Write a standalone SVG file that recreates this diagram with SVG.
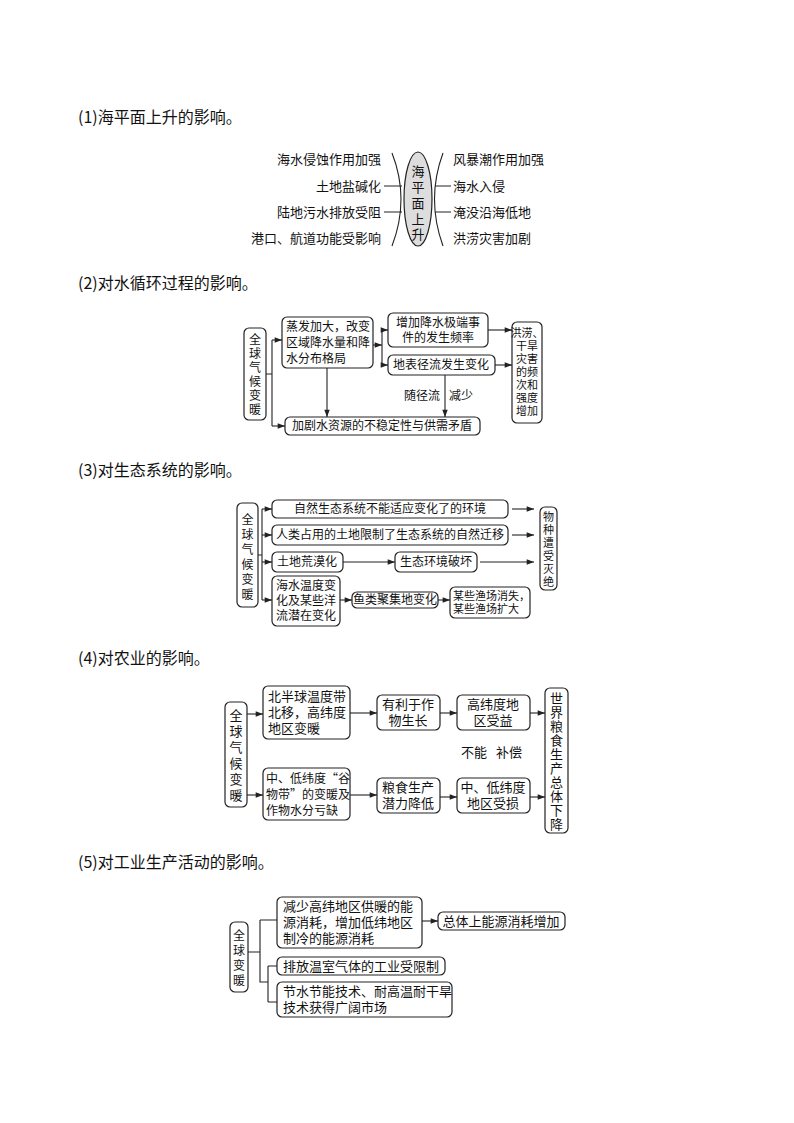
<svg xmlns="http://www.w3.org/2000/svg" width="794" height="1123" viewBox="0 0 794 1123">
<style>
text{font-family:"Noto Sans CJK SC","Liberation Sans",sans-serif;fill:#111;font-size:12px}
.t{font-size:16px}
.m{font-size:13px}
.s{font-size:11px}
.c{text-anchor:middle}
.r{text-anchor:end}
.b{fill:#fff;stroke:#222;stroke-width:1.2}
.l{fill:none;stroke:#222;stroke-width:1.1}
</style>
<defs><marker id="a" viewBox="0 0 8 6" refX="8" refY="3" markerWidth="7" markerHeight="5" orient="auto"><path d="M0,0L8,3L0,6z" fill="#222"/></marker></defs>
<rect width="794" height="1123" fill="#fff"/>
<text class="t" x="78" y="123">(1)海平面上升的影响。</text>
<text class="t" x="78" y="289">(2)对水循环过程的影响。</text>
<text class="t" x="78" y="476">(3)对生态系统的影响。</text>
<text class="t" x="78" y="664">(4)对农业的影响。</text>
<text class="t" x="78" y="868">(5)对工业生产活动的影响。</text>

<!-- Section 1 -->
<g id="s1-center"><ellipse cx="418" cy="199" rx="14" ry="47" fill="#ddd" stroke="#222" stroke-width="1.2"/>
<text class="c m" x="418" y="176">海</text><text class="c m" x="418" y="192">平</text><text class="c m" x="418" y="208">面</text><text class="c m" x="418" y="224">上</text><text class="c m" x="418" y="239">升</text></g>
<g id="s1-left"><text class="r m" x="381" y="164">海水侵蚀作用加强</text><text class="r m" x="381" y="191">土地盐碱化</text><text class="r m" x="381" y="217">陆地污水排放受阻</text><text class="r m" x="381" y="243">港口、航道功能受影响</text></g>
<g id="s1-right"><text class="m" x="453" y="164">风暴潮作用加强</text><text class="m" x="453" y="191">海水入侵</text><text class="m" x="453" y="217">淹没沿海低地</text><text class="m" x="453" y="243">洪涝灾害加剧</text></g>
<g id="s1-lines"><path class="l" d="M392,153Q410,199 392,246M443,153Q426,199 443,246M384,186H402M384,212H402M435,186H451M435,212H451"/></g>

<!-- Section 2 -->
<g id="n2-1"><rect class="b" x="244" y="328" width="22" height="92" rx="5"/><text class="c" x="255" y="344">全</text><text class="c" x="255" y="358">球</text><text class="c" x="255" y="372">气</text><text class="c" x="255" y="386">候</text><text class="c" x="255" y="400">变</text><text class="c" x="255" y="414">暖</text></g>
<g id="n2-2"><rect class="b" x="282" y="317" width="91" height="51" rx="5"/><text x="286" y="331">蒸发加大，改变</text><text x="286" y="347">区域降水量和降</text><text x="286" y="363">水分布格局</text></g>
<g id="n2-3"><rect class="b" x="388" y="313" width="100" height="34" rx="5"/><text class="c" x="438" y="327">增加降水极端事</text><text class="c" x="438" y="342">件的发生频率</text></g>
<g id="n2-4"><rect class="b" x="388" y="355" width="107" height="20" rx="5"/><text class="c" x="441" y="369">地表径流发生变化</text></g>
<g id="n2-5"><rect class="b" x="512" y="322" width="30" height="101" rx="5"/><text class="c s" x="527" y="337">洪涝、</text><text class="c s" x="527" y="350">干旱</text><text class="c s" x="527" y="363">灾害</text><text class="c s" x="527" y="376">的频</text><text class="c s" x="527" y="389">次和</text><text class="c s" x="527" y="402">强度</text><text class="c s" x="527" y="415">增加</text></g>
<g id="n2-6"><rect class="b" x="285" y="417" width="195" height="18" rx="5"/><text class="c" x="382" y="430">加剧水资源的不稳定性与供需矛盾</text></g>
<g id="s2-conn">
<path class="l" d="M266,374H272M272,340V426"/>
<path class="l" marker-end="url(#a)" d="M272,340H282"/><path class="l" marker-end="url(#a)" d="M272,426H285"/>
<path class="l" marker-end="url(#a)" d="M373,345H382"/><path class="l" d="M382,330V365"/>
<path class="l" marker-end="url(#a)" d="M382,330H388"/><path class="l" marker-end="url(#a)" d="M382,365H388"/>
<path class="l" marker-end="url(#a)" d="M488,330H512"/><path class="l" marker-end="url(#a)" d="M495,365H512"/>
<path class="l" marker-end="url(#a)" d="M327,368V417"/><path class="l" marker-end="url(#a)" d="M445,375V417"/>
<text class="c" x="422" y="400">随径流</text><text class="c" x="461" y="400">减少</text></g>

<!-- Section 3 -->
<g id="n3-1"><rect class="b" x="237" y="503" width="21" height="104" rx="5"/><text class="c" x="247.5" y="524">全</text><text class="c" x="247.5" y="539">球</text><text class="c" x="247.5" y="554">气</text><text class="c" x="247.5" y="569">候</text><text class="c" x="247.5" y="584">变</text><text class="c" x="247.5" y="599">暖</text></g>
<g id="n3-2"><rect class="b" x="272" y="500" width="236" height="18" rx="5"/><text class="c" x="390" y="513">自然生态系统不能适应变化了的环境</text></g>
<g id="n3-3"><rect class="b" x="272" y="525" width="236" height="20" rx="5"/><text class="c" x="390" y="539">人类占用的土地限制了生态系统的自然迁移</text></g>
<g id="n3-4"><rect class="b" x="272" y="552" width="71" height="20" rx="5"/><text class="c" x="307" y="566">土地荒漠化</text></g>
<g id="n3-5"><rect class="b" x="395" y="552" width="82" height="20" rx="5"/><text class="c" x="436" y="566">生态环境破坏</text></g>
<g id="n3-6"><rect class="b" x="272" y="576" width="68" height="50" rx="5"/><text x="276" y="590">海水温度变</text><text x="276" y="605">化及某些洋</text><text x="276" y="620">流潜在变化</text></g>
<g id="n3-7"><rect class="b" x="352" y="592" width="86" height="16" rx="5"/><text class="c" x="395" y="604">鱼类聚集地变化</text></g>
<g id="n3-8"><rect class="b" x="450" y="587" width="80" height="31" rx="5"/><text class="s" x="453" y="600">某些渔场消失，</text><text class="s" x="453" y="613">某些渔场扩大</text></g>
<g id="n3-9"><rect class="b" x="540" y="507" width="17" height="83" rx="5"/><text class="c s" x="548.5" y="521">物</text><text class="c s" x="548.5" y="534">种</text><text class="c s" x="548.5" y="547">遭</text><text class="c s" x="548.5" y="560">受</text><text class="c s" x="548.5" y="573">灭</text><text class="c s" x="548.5" y="586">绝</text></g>
<g id="s3-conn">
<path class="l" d="M258,555H262M262,509V600"/>
<path class="l" marker-end="url(#a)" d="M262,509H272"/><path class="l" marker-end="url(#a)" d="M262,535H272"/><path class="l" marker-end="url(#a)" d="M262,562H272"/><path class="l" marker-end="url(#a)" d="M262,600H272"/>
<path class="l" marker-end="url(#a)" d="M343,562H395"/><path class="l" marker-end="url(#a)" d="M340,600H352"/><path class="l" marker-end="url(#a)" d="M438,600H450"/>
<path class="l" marker-end="url(#a)" d="M512,509H534"/><path class="l" marker-end="url(#a)" d="M512,535H534"/><path class="l" marker-end="url(#a)" d="M480,562H534"/></g>

<!-- Section 4 -->
<g id="n4-1"><rect class="b" x="225" y="702" width="22" height="105" rx="5"/><text class="c m" x="236" y="720">全</text><text class="c m" x="236" y="736">球</text><text class="c m" x="236" y="752">气</text><text class="c m" x="236" y="768">候</text><text class="c m" x="236" y="784">变</text><text class="c m" x="236" y="800">暖</text></g>
<g id="n4-2"><rect class="b" x="263" y="686" width="87" height="53" rx="5"/><text class="m" x="268" y="701">北半球温度带</text><text class="m" x="268" y="717">北移，高纬度</text><text class="m" x="268" y="733">地区变暖</text></g>
<g id="n4-3"><rect class="b" x="377" y="695" width="63" height="35" rx="5"/><text class="c m" x="408" y="709">有利于作</text><text class="c m" x="408" y="725">物生长</text></g>
<g id="n4-4"><rect class="b" x="457" y="695" width="73" height="35" rx="5"/><text class="c m" x="493" y="709">高纬度地</text><text class="c m" x="493" y="725">区受益</text></g>
<g id="n4-5"><rect class="b" x="263" y="768" width="87" height="52" rx="5"/><text x="266" y="783">中、低纬度“谷</text><text x="266" y="799">物带”的变暖及</text><text x="266" y="815">作物水分亏缺</text></g>
<g id="n4-6"><rect class="b" x="377" y="778" width="63" height="35" rx="5"/><text class="c m" x="408" y="792">粮食生产</text><text class="c m" x="408" y="808">潜力降低</text></g>
<g id="n4-7"><rect class="b" x="457" y="778" width="73" height="35" rx="5"/><text class="c m" x="493" y="792">中、低纬度</text><text class="c m" x="493" y="808">地区受损</text></g>
<g id="n4-8"><rect class="b" x="545" y="688" width="23" height="145" rx="5"/><text class="c m" x="556.5" y="703">世</text><text class="c m" x="556.5" y="717">界</text><text class="c m" x="556.5" y="731">粮</text><text class="c m" x="556.5" y="745">食</text><text class="c m" x="556.5" y="759">生</text><text class="c m" x="556.5" y="773">产</text><text class="c m" x="556.5" y="787">总</text><text class="c m" x="556.5" y="801">体</text><text class="c m" x="556.5" y="815">下</text><text class="c m" x="556.5" y="829">降</text></g>
<g id="s4-conn">
<path class="l" marker-end="url(#a)" d="M247,714H263"/><path class="l" marker-end="url(#a)" d="M247,795H263"/>
<path class="l" marker-end="url(#a)" d="M350,713H377"/><path class="l" marker-end="url(#a)" d="M350,795H377"/>
<path class="l" marker-end="url(#a)" d="M440,713H457"/><path class="l" marker-end="url(#a)" d="M440,797H457"/>
<path class="l" marker-end="url(#a)" d="M530,713H545"/><path class="l" marker-end="url(#a)" d="M530,797H545"/>
<text class="m" x="461" y="757">不能</text><text class="m" x="496" y="757">补偿</text></g>

<!-- Section 5 -->
<g id="n5-1"><rect class="b" x="230" y="922" width="18" height="70" rx="5"/><text class="c" x="239" y="940">全</text><text class="c" x="239" y="955">球</text><text class="c" x="239" y="970">变</text><text class="c" x="239" y="985">暖</text></g>
<g id="n5-2"><rect class="b" x="277" y="897" width="145" height="51" rx="5"/><text class="m" x="283" y="911">减少高纬地区供暖的能</text><text class="m" x="283" y="927">源消耗，增加低纬地区</text><text class="m" x="283" y="943">制冷的能源消耗</text></g>
<g id="n5-3"><rect class="b" x="438" y="912" width="127" height="18" rx="5"/><text class="c m" x="501" y="926">总体上能源消耗增加</text></g>
<g id="n5-4"><rect class="b" x="277" y="957" width="168" height="18" rx="5"/><text class="m" x="283" y="971">排放温室气体的工业受限制</text></g>
<g id="n5-5"><rect class="b" x="277" y="982" width="175" height="35" rx="5"/><text class="m" x="283" y="996">节水节能技术、耐高温耐干旱</text><text class="m" x="283" y="1012">技术获得广阔市场</text></g>
<g id="s5-conn">
<path class="l" d="M248,952H260M260,920V982H268M260,920H277M268,966V1002M268,966H277M268,1002H277"/>
<path class="l" marker-end="url(#a)" d="M422,921H438"/></g>
</svg>
